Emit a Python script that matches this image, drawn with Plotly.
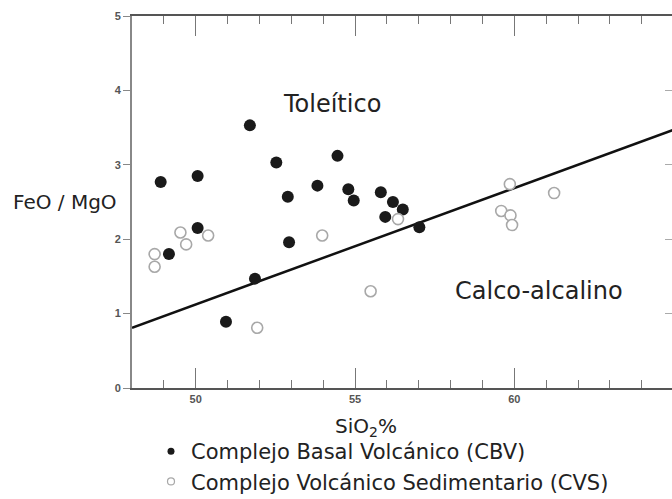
import plotly.graph_objects as go

# --- Data ---
cbv_sio2 = [48.9, 50.06, 50.06, 49.16, 51.70, 52.53, 54.45, 53.82, 52.89, 54.79,
            54.96, 55.81, 56.19, 56.50, 55.95, 57.02, 52.93, 51.86, 50.95]
cbv_ratio = [2.77, 2.85, 2.15, 1.80, 3.53, 3.03, 3.12, 2.72, 2.57, 2.67,
             2.52, 2.63, 2.50, 2.40, 2.30, 2.16, 1.96, 1.47, 0.89]

cvs_sio2 = [48.71, 48.71, 49.52, 49.70, 50.39, 53.97, 56.35, 51.93, 55.49,
            59.86, 61.25, 59.59, 59.88, 59.93]
cvs_ratio = [1.80, 1.63, 2.09, 1.93, 2.05, 2.05, 2.27, 0.81, 1.30,
             2.74, 2.62, 2.38, 2.32, 2.19]

boundary_sio2 = [48, 65]
boundary_ratio = [0.81, 3.47]

x_tick_vals = [50, 55, 60]
x_tick_text = ["<b>50</b>", "<b>55</b>", "<b>60</b>"]
y_tick_vals = [0, 1, 2, 3, 4, 5]
y_tick_text = ["<b>0</b>", "<b>1</b>", "<b>2</b>", "<b>3</b>", "<b>4</b>", "<b>5</b>"]

series_names = ["Complejo Basal Volcánico (CBV)", "Complejo Volcánico Sedimentario (CVS)"]

FONT = "DejaVu Sans, sans-serif"
TICKFONT = "Liberation Sans, Arial, sans-serif"

fig = go.Figure()

fig.add_trace(go.Scatter(x=boundary_sio2, y=boundary_ratio, mode="lines",
                         line=dict(color="#111", width=2.5), showlegend=False,
                         hoverinfo="skip"))

fig.add_trace(go.Scatter(x=cbv_sio2, y=cbv_ratio, mode="markers",
                         marker=dict(size=12, color="#1a1a1a",
                                     line=dict(color="#1a1a1a", width=0)),
                         showlegend=False, name=series_names[0]))
fig.add_trace(go.Scatter(x=cvs_sio2, y=cvs_ratio, mode="markers",
                         marker=dict(size=11, color="white",
                                     line=dict(color="#a8a8a8", width=1.6)),
                         showlegend=False, name=series_names[1]))

# legend entries (small symbols)
fig.add_trace(go.Scatter(x=[None], y=[None], mode="markers",
                         marker=dict(size=7, color="#1a1a1a"),
                         name=series_names[0]))
fig.add_trace(go.Scatter(x=[None], y=[None], mode="markers",
                         marker=dict(size=7, color="white",
                                     line=dict(color="#a8a8a8", width=1.2)),
                         name=series_names[1]))

# overlay axis for right-side inward ticks
fig.add_trace(go.Scatter(x=[None], y=[None], yaxis="y2", showlegend=False))

fig.update_layout(
    width=672, height=499,
    margin=dict(l=132, r=0, t=16, b=111, autoexpand=False),
    paper_bgcolor="white", plot_bgcolor="white",
    font=dict(family=FONT, color="#222"),
    xaxis=dict(range=[48, 64.95], showgrid=False, zeroline=False,
               showline=True, linecolor="#555", linewidth=2, mirror="ticks",
               ticks="inside", ticklen=20, tickwidth=1, tickcolor="#777",
               tickvals=x_tick_vals, ticktext=x_tick_text,
               tickfont=dict(size=11, color="#555", family=TICKFONT),
               minor=dict(dtick=1, ticks="inside", ticklen=8, tickwidth=1,
                          tickcolor="#777")),
    yaxis=dict(range=[0, 5], showgrid=False, zeroline=False,
               showline=True, linecolor="#888", linewidth=2,
               ticks="outside", ticklen=7, tickwidth=1, tickcolor="#888",
               tickvals=y_tick_vals, ticktext=y_tick_text,
               tickfont=dict(size=11, color="#555", family=TICKFONT)),
    yaxis2=dict(range=[0, 5], overlaying="y", side="right", showgrid=False,
                zeroline=False, showline=False, ticks="inside", ticklen=7,
                tickwidth=1, tickcolor="#aaa", tickvals=y_tick_vals,
                showticklabels=False),
    legend=dict(xref="container", yref="container", x=0.2247, y=0.1363,
                xanchor="left", yanchor="top",
                font=dict(size=21, family=FONT, color="#222"),
                bgcolor="rgba(0,0,0,0)", tracegroupgap=0),
    annotations=[
        dict(text="Toleítico", x=54.28, y=3.82, xref="x", yref="y",
             xanchor="center", yanchor="middle",
             showarrow=False, font=dict(size=24, color="#222")),
        dict(text="Calco-alcalino", x=60.79, y=1.30, xref="x", yref="y",
             xanchor="center", yanchor="middle",
             showarrow=False, font=dict(size=24, color="#222")),
        dict(text="FeO / MgO", x=-0.124, y=0.5, xref="paper", yref="paper",
             xanchor="center", yanchor="middle",
             showarrow=False, font=dict(size=20, color="#222")),
        dict(text="SiO<sub>2</sub>%", x=0.433, y=-0.105, xref="paper", yref="paper",
             xanchor="center", yanchor="middle",
             showarrow=False, font=dict(size=20, color="#222")),
    ],
)

fig.write_html("out.html",
               config={"displayModeBar": False},
               post_script="document.body.style.margin='0px';"
                           "document.body.style.overflow='hidden';")
